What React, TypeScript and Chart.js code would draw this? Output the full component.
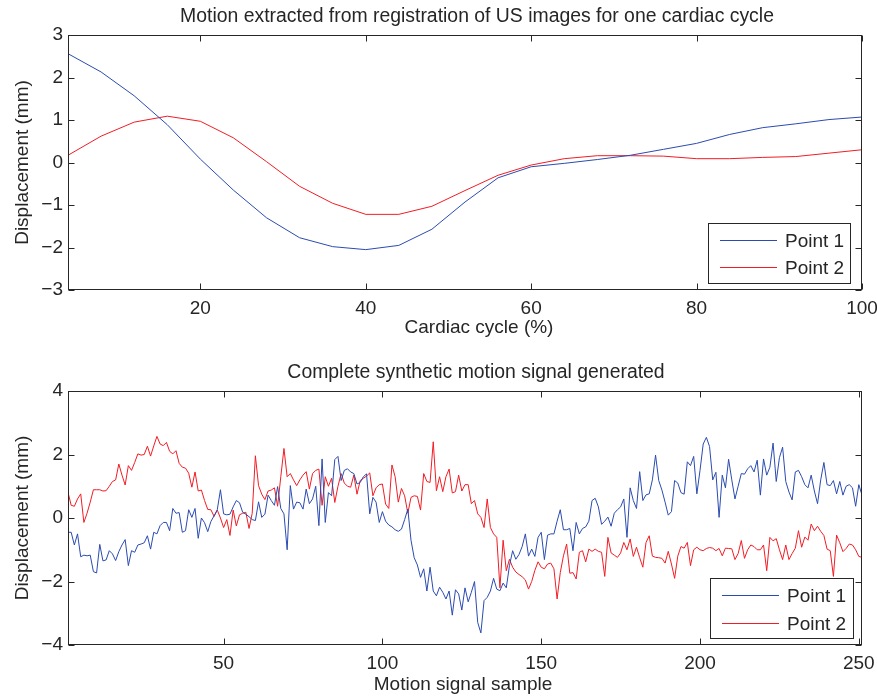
import React, { useEffect, useRef } from 'react';
import { Chart, registerables } from 'chart.js';

Chart.register(...registerables);

// ---------- data ----------
const seriesLabels = ['Point 1', 'Point 2'];
const seriesColors = ['#2b4bb0', '#f21c24'];

const topTitle = 'Motion extracted from registration of US images for one cardiac cycle';
const topXTitle = 'Cardiac cycle (%)';
const bottomTitle = 'Complete synthetic motion signal generated';
const bottomXTitle = 'Motion signal sample';
const yTitle = 'Displacement (mm)';

const cycleTicks = [20, 40, 60, 80, 100];
const signalTicks = [50, 100, 150, 200, 250];

const cyclePct = [4, 8, 12, 16, 20, 24, 28, 32, 36, 40, 44, 48, 52, 56, 60, 64, 68, 72, 76, 80, 84, 88, 92, 96, 100];
const cyclePoint1 = [2.56, 2.13, 1.57, 0.89, 0.08, -0.65, -1.3, -1.77, -1.98, -2.05, -1.95, -1.57, -0.93, -0.36, -0.1, -0.02, 0.07, 0.17, 0.31, 0.45, 0.66, 0.82, 0.91, 1.01, 1.07];
const cyclePoint2 = [0.17, 0.62, 0.95, 1.09, 0.97, 0.58, 0.02, -0.56, -0.96, -1.22, -1.22, -1.03, -0.66, -0.3, -0.06, 0.09, 0.16, 0.16, 0.15, 0.09, 0.09, 0.12, 0.14, 0.22, 0.3];

const signalPoint1 = [
  -0.45, -0.45, -0.85, -0.5, -1.22, -1.17, -1.19, -1.17, -1.69, -1.73,
  -0.83, -1.35, -1.32, -1.03, -1.13, -1.34, -1.06, -0.85, -0.68, -1.5,
  -1.03, -1.08, -0.85, -0.82, -0.78, -0.56, -0.98, -0.45, -0.5, -0.24,
  -0.14, -0.14, -0.4, 0.3, 0.15, 0.17, -0.45, -0.4, 0.26, 0.02,
  0.3, -0.64, 0.0, -0.15, -0.43, -0.11, 0.07, 0.26,
  0.89, 0.13, 0.1, 0.12, 0.35, 0.55, 0.48, 0.18, 0.12, 0.04,
  -0.05, -0.08, 0.51, 0.02, 0.12, 0.72, 0.55, 0.4, 0.99, 0.3,
  0.13, -1.0, 1.02, 0.28, 0.5, 0.48, 0.28, 0.91, 0.45, 0.6,
  1.0, -0.24, 1.86, -0.14, 0.8, 0.7, 1.84, 1.94, 1.18, 1.5,
  1.55, 1.45, 1.4, 1.07, 1.12, 1.3, 1.39, 0.13, 0.65, 0.5, -0.14,
  0.2, -0.1, -0.22, -0.28, -0.37, -0.42, -0.35, -0.05, 0.28, -0.7,
  -1.25, -1.48, -1.87, -1.6, -2.3, -1.55, -2.3, -2.45, -2.18, -2.34,
  -2.55, -2.3, -3.06, -2.26, -2.39, -2.9, -2.2, -2.64, -2.34, -2.0,
  -3.29, -3.62, -2.6, -2.5, -2.3, -1.9, -2.24, -2.29, -2.05, -2.2,
  -1.5, -1.03, -1.3, -1.15, -0.9, -0.5, -1.2, -0.98, -1.21, -0.61,
  -0.45, -1.31, -0.54, -0.5, -0.5, -0.1, 0.26, -0.37, -0.37, -0.33,
  -1.03, -0.14, -0.5, -0.33, -0.28, -0.1, 0.55, 0.62, 0.35, -0.2,
  -0.1, 0.03, -0.26, 0.15, 0.26, 0.35, 0.6, -0.61, 0.95, 0.55,
  0.3, 1.46, 0.55, 0.73, 0.76, 1.2, 1.98, 1.18, 0.88, 0.5,
  0.09, 0.2, 1.18, 1.1, 0.8, 0.75, 1.77, 1.65, 1.94, 0.76,
  1.5, 2.33, 2.54, 2.25, 1.2, 1.44, 0.02, 1.35, 0.95, 1.85,
  1.2, 0.6, 1.0, 1.4, 1.38, 1.55, 1.65, 1.45, 1.82, 0.72,
  1.86, 1.35, 1.6, 2.36, 1.15, 1.9, 2.23, 1.15, 0.82, 0.57,
  1.45, 1.5, 1.3, 1.05, 0.95, 1.35, 0.85, 0.45, 1.2, 1.75,
  1.05, 1.02, 1.18, 0.76, 1.15, 0.72, 1.0, 1.05, 0.95, 0.37, 1.05, 0.72,
];

const signalPoint2 = [
  0.81, 0.4, 0.37, 0.6, 0.76, -0.14, 0.15, 0.5, 0.89, 0.89,
  0.89, 0.85, 0.86, 1.0, 1.15, 1.2, 1.7, 1.35, 1.04, 1.65,
  1.5, 1.75, 2.02, 1.98, 2.0, 2.26, 1.95, 2.27, 2.57, 2.33,
  2.28, 2.38, 2.1, 2.02, 2.12, 1.72, 1.6, 1.57, 1.41, 0.97,
  1.45, 0.85, 0.88, 0.55, 0.27, 0.26, 0.05, 0.25,
  0.0, -0.3, -0.05, -0.55, 0.25, -0.25, 0.1, 0.15, 0.18, -0.33,
  0.15, 1.96, 1.02, 0.75, 0.58, 0.85, 0.88, 0.95, 0.37, 1.3,
  2.19, 1.3, 1.4, 1.2, 1.02, 1.2, 1.35, 1.46, 0.91, 1.4,
  1.5, 1.54, 0.4, 1.3, 1.0, 1.25, 0.49, 1.0, 1.4, 1.1,
  1.0, 0.97, 1.35, 0.75, 1.18, 1.25, 1.32, 1.42, 0.7, 0.95, 1.05,
  1.07, 0.44, 0.3, 1.67, 1.3, 0.5, 0.93, 0.7, 0.15, 0.65,
  0.7, 0.68, 0.25, 1.4, 1.15, 1.12, 2.4, 0.86, 1.3, 0.83,
  1.3, 1.54, 0.79, 0.83, 1.35, 0.85, 1.05, 1.05, 0.45, 0.55,
  0.13, 0.02, -0.3, 0.6, -0.3, -0.5, -0.61, -2.2, -0.7, -1.66,
  -1.3, -1.55, -1.7, -1.78, -1.85, -1.95, -2.24, -2.0, -1.65, -1.38,
  -1.55, -1.6, -1.45, -1.42, -1.6, -2.55, -1.72, -1.19, -0.82, -1.74,
  -1.72, -1.92, -1.08, -1.03, -1.38, -0.98, -1.05, -0.98, -1.05, -1.08,
  -1.84, -0.61, -1.1, -1.17, -1.24, -1.1, -0.77, -1.0, -0.66, -1.21,
  -0.92, -1.25, -1.55, -0.77, -0.56, -1.2, -1.24, -1.25, -1.27, -1.42,
  -1.05, -1.45, -1.9, -1.2, -0.9, -0.95, -0.77, -1.5, -1.0, -0.92,
  -1.0, -1.03, -0.96, -0.93, -0.95, -1.03, -0.96, -1.19, -0.95, -0.96,
  -0.97, -1.31, -1.12, -0.71, -1.27, -1.0, -0.85, -0.9, -1.0, -1.0,
  -0.85, -1.66, -0.61, -0.72, -0.65, -1.0, -1.31, -0.85, -1.31, -1.12,
  -0.95, -0.4, -0.92, -0.6, -0.7, -0.19, -0.4, -0.26, -0.42, -0.55,
  -0.98, -1.03, -1.84, -0.54, -0.78, -1.06, -0.96, -0.82, -0.85, -1.0, -1.21, -1.24,
];

// ---------- styling ----------
const FONT_FAMILY = '"Liberation Sans", Arial, Helvetica, sans-serif';
const TEXT_COLOR = '#262626';
const FONT_SIZE = 19;
const TITLE_SIZE = 19.4;
const TICK_LEN = 6;

const minusFmt = (v: number | string) => String(v).replace('-', '\u2212');

const matlabAxes = {
  id: 'matlabAxes',
  afterDraw(chart: any, _args: any, opts: any) {
    const { ctx, chartArea: a } = chart;
    const xs = chart.scales.x;
    const ys = chart.scales.y;
    const L = Math.round(a.left) + 0.5;
    const R = Math.round(a.right) - 0.5;
    const T = Math.round(a.top) + 0.5;
    const B = Math.round(a.bottom) - 0.5;
    ctx.save();
    ctx.strokeStyle = TEXT_COLOR;
    ctx.lineWidth = 1;
    ctx.beginPath();
    xs.ticks.forEach((t: any) => {
      const px = Math.round(xs.getPixelForValue(t.value)) + 0.5;
      ctx.moveTo(px, B);
      ctx.lineTo(px, B - TICK_LEN);
      ctx.moveTo(px, T);
      ctx.lineTo(px, T + TICK_LEN);
    });
    ys.ticks.forEach((t: any) => {
      const py = Math.round(ys.getPixelForValue(t.value)) + 0.5;
      ctx.moveTo(L, py);
      ctx.lineTo(L + TICK_LEN, py);
      ctx.moveTo(R, py);
      ctx.lineTo(R - TICK_LEN, py);
    });
    ctx.stroke();
    ctx.strokeRect(L, T, R - L, B - T);

    // titles (MATLAB places them slightly off the canvas centre)
    ctx.fillStyle = TEXT_COLOR;
    ctx.textBaseline = 'middle';
    ctx.textAlign = 'center';
    (opts.texts || []).forEach((t: any) => {
      ctx.font = `${t.size}px ${FONT_FAMILY}`;
      ctx.fillText(t.text, t.x, t.y);
    });

    // legend box (MATLAB style, inside the axes, bottom right)
    const lg = opts.legend;
    const bx = Math.round(a.right - lg.right - lg.width) + 0.5;
    const by = Math.round(a.bottom - lg.bottom - lg.height) + 0.5;
    ctx.fillStyle = '#ffffff';
    ctx.fillRect(bx, by, lg.width, lg.height);
    ctx.strokeStyle = TEXT_COLOR;
    ctx.strokeRect(bx, by, lg.width, lg.height);
    ctx.font = `${FONT_SIZE}px ${FONT_FAMILY}`;
    ctx.textAlign = 'left';
    chart.data.datasets.forEach((ds: any, i: number) => {
      const y = Math.round(by + lg.rowY[i]) + 0.5;
      ctx.strokeStyle = ds.borderColor;
      ctx.beginPath();
      ctx.moveTo(bx + 11.5, y);
      ctx.lineTo(bx + 68.5, y);
      ctx.stroke();
      ctx.fillStyle = TEXT_COLOR;
      ctx.fillText(ds.label, bx + 76.5, y + 1);
    });
    ctx.restore();
  },
};

function makeConfig(p: {
  datasets: { label: string; data: { x: number; y: number }[]; color: string }[];
  texts: { text: string; x: number; y: number; size: number }[];
  topPad: number;
  xMin: number;
  xMax: number;
  xTicks: number[];
  yMin: number;
  yMax: number;
  yStep: number;
  xAxisHeight: number;
  legend: any;
}): any {
  const font = { family: FONT_FAMILY, size: FONT_SIZE, weight: 'normal' as const };
  return {
    type: 'line',
    data: {
      datasets: p.datasets.map((d) => ({
        label: d.label,
        data: d.data,
        borderColor: d.color,
        backgroundColor: d.color,
        borderWidth: 1,
        pointRadius: 0,
        tension: 0,
        fill: false,
      })),
    },
    options: {
      responsive: false,
      animation: false,
      devicePixelRatio: 1,
      layout: { padding: { left: 0, right: 15, top: p.topPad, bottom: 0 } },
      plugins: {
        legend: { display: false },
        tooltip: { enabled: false },
        title: { display: false },
        matlabAxes: { legend: p.legend, texts: p.texts },
      },
      scales: {
        x: {
          type: 'linear',
          min: p.xMin,
          max: p.xMax,
          grid: { display: false, drawTicks: false },
          border: { display: false },
          afterBuildTicks: (axis: any) => {
            axis.ticks = p.xTicks.map((v) => ({ value: v }));
          },
          ticks: {
            padding: 7,
            color: TEXT_COLOR,
            font,
            maxRotation: 0,
            autoSkip: false,
            callback: (v: number) => minusFmt(v),
          },
          afterFit: (s: any) => {
            s.height = p.xAxisHeight;
            s.paddingLeft = 0;
            s.paddingRight = 0;
          },
        },
        y: {
          type: 'linear',
          min: p.yMin,
          max: p.yMax,
          grid: { display: false, drawTicks: false },
          border: { display: false },
          ticks: {
            stepSize: p.yStep,
            padding: 5,
            color: TEXT_COLOR,
            font,
            autoSkip: false,
            callback: (v: number) => minusFmt(v),
          },
          title: {
            display: true,
            text: yTitle,
            color: TEXT_COLOR,
            font,
            padding: { top: 11, bottom: 0 },
          },
          afterFit: (s: any) => {
            s.width = 68;
            s.paddingTop = 0;
            s.paddingBottom = 0;
          },
        },
      },
    },
    plugins: [matlabAxes],
  };
}

function Plot({ config, top, height }: { config: any; top: number; height: number }) {
  const ref = useRef<HTMLCanvasElement>(null);
  useEffect(() => {
    const chart = new Chart(ref.current as HTMLCanvasElement, config);
    return () => chart.destroy();
  }, []);
  return (
    <canvas
      ref={ref}
      width={877}
      height={height}
      style={{ position: 'absolute', left: 0, top, width: 877, height, display: 'block' }}
    />
  );
}

export default function App() {
  const topConfig = makeConfig({
    datasets: [
      { label: seriesLabels[0], data: cyclePct.map((x, i) => ({ x, y: cyclePoint1[i] })), color: seriesColors[0] },
      { label: seriesLabels[1], data: cyclePct.map((x, i) => ({ x, y: cyclePoint2[i] })), color: seriesColors[1] },
    ],
    texts: [
      { text: topTitle, x: 477, y: 17, size: TITLE_SIZE },
      { text: topXTitle, x: 479, y: 328, size: FONT_SIZE },
    ],
    topPad: 35,
    xMin: 4,
    xMax: 100,
    xTicks: cycleTicks,
    yMin: -3,
    yMax: 3,
    yStep: 1,
    xAxisHeight: 55,
    legend: { right: 12.5, bottom: 7.5, width: 142, height: 60, rowY: [16, 43.5] },
  });
  const bottomConfig = makeConfig({
    datasets: [
      { label: seriesLabels[0], data: signalPoint1.map((y, i) => ({ x: i + 1, y })), color: seriesColors[0] },
      { label: seriesLabels[1], data: signalPoint2.map((y, i) => ({ x: i + 1, y })), color: seriesColors[1] },
    ],
    texts: [
      { text: bottomTitle, x: 476, y: 27.5, size: TITLE_SIZE },
      { text: bottomXTitle, x: 463, y: 340, size: FONT_SIZE },
    ],
    topPad: 46,
    xMin: 1,
    xMax: 251,
    xTicks: signalTicks,
    yMin: -4,
    yMax: 4,
    yStep: 2,
    xAxisHeight: 51,
    legend: { right: 9.5, bottom: 7.5, width: 143, height: 60, rowY: [16.5, 44] },
  });
  return (
    <div style={{ position: 'absolute', left: 0, top: 0, width: 877, height: 696, background: '#fff', overflow: 'hidden' }}>
      <Plot config={topConfig} top={0} height={345} />
      <Plot config={bottomConfig} top={345} height={351} />
    </div>
  );
}
